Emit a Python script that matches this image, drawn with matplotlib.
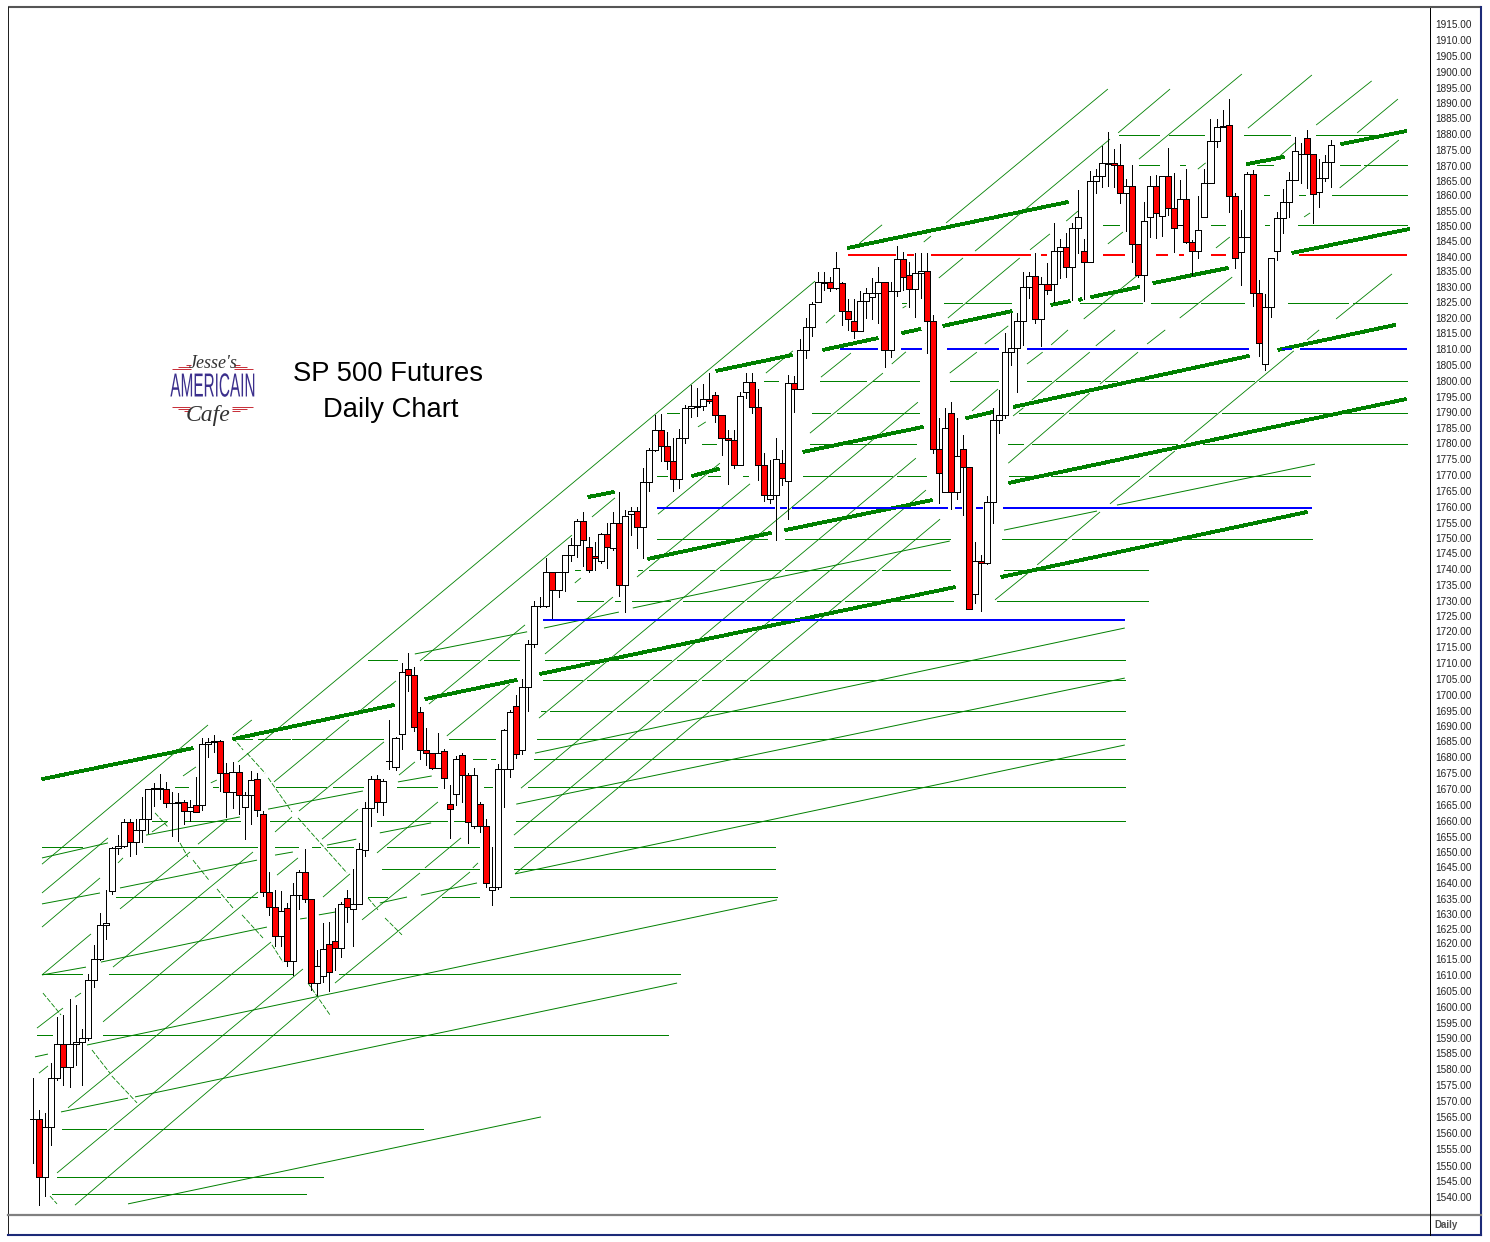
import matplotlib
matplotlib.use('Agg')
import matplotlib.pyplot as plt
from matplotlib.collections import LineCollection
from matplotlib.patheffects import AbstractPathEffect
from matplotlib.transforms import Affine2D, ScaledTranslation
import numpy as np

plt.rcParams['font.family'] = ['Liberation Sans', 'DejaVu Sans']

opens = [
  1564.8,1564.8,1546.3,1562.3,1578.2,1588.8,1581.7,1588.8,1589.4,1590.7,
  1609.4,1616.1,1626.9,1637.9,1651.5,1652.3,1659.8,1653.4,1657.2,1661.0,
  1670.3,1670.9,1670.3,1665.9,1666.1,1666.4,1663.3,1665.2,1665.2,1684.8,
  1685.6,1685.9,1675.4,1669.4,1675.8,1664.6,1668.4,1673.5,1662.6,1637.4,
  1632.6,1623.6,1632.3,1615.6,1636.4,1643.8,1635.2,1608.3,1610.5,1620.8,
  1622.0,1619.5,1635.5,1632.0,1633.6,1650.8,1664.3,1673.5,1666.2,1679.3,
  1677.6,1687.9,1708.7,1706.8,1695.2,1682.8,1681.8,1677.0,1682.5,1665.5,
  1668.7,1681.4,1674.8,1658.5,1665.8,1658.5,1638.3,1639.2,1676.7,1676.7,
  1697.1,1682.8,1703.2,1716.7,1729.0,1729.1,1739.7,1733.9,1739.7,1745.4,
  1748.6,1756.0,1747.7,1744.8,1743.2,1751.8,1747.4,1755.4,1735.8,1758.5,
  1759.2,1754.1,1768.5,1778.7,1785.1,1780.0,1775.2,1769.4,1782.5,1792.1,
  1792.7,1792.8,1795.0,1796.3,1789.9,1782.5,1781.9,1773.9,1797.3,1800.4,
  1792.5,1773.9,1763.0,1764.3,1774.6,1768.8,1800.1,1798.2,1810.7,1818.0,
  1826.0,1832.3,1832.4,1830.5,1832.1,1823.2,1820.0,1816.7,1826.3,1827.6,
  1828.9,1832.4,1810.7,1829.5,1839.8,1834.7,1830.2,1835.3,1835.9,1820.0,
  1779.0,1765.3,1790.5,1765.3,1779.0,1773.3,1732.7,1743.2,1742.6,1762.1,
  1788.3,1789.9,1810.0,1811.3,1820.0,1830.8,1834.3,1820.6,1831.8,1831.8,
  1842.3,1843.6,1837.2,1849.7,1842.3,1838.8,1864.7,1866.3,1870.4,1870.5,
  1869.8,1860.9,1863.1,1844.6,1834.6,1853.2,1863.1,1853.5,1866.3,1856.1,
  1850.6,1859.0,1845.2,1842.3,1853.2,1864.1,1877.5,1882.2,1882.6,1859.9,
  1842.0,1846.8,1866.9,1828.9,1806.2,1824.4,1842.3,1852.9,1858.0,1865.0,
  1873.5,1878.5,1873.6,1861.2,1865.7,1870.8]
closes = [
  1564.8,1546.3,1562.3,1578.2,1588.8,1581.7,1588.8,1589.4,1590.7,1609.4,
  1616.1,1627.0,1627.5,1651.5,1652.3,1659.8,1653.4,1657.2,1661.0,1670.3,
  1670.9,1670.3,1665.9,1666.1,1666.4,1663.3,1664.6,1663.0,1684.8,1685.6,
  1685.9,1675.4,1669.4,1675.8,1668.4,1668.4,1673.2,1663.6,1637.4,1632.6,
  1623.6,1631.3,1615.6,1636.4,1643.8,1635.2,1608.3,1613.7,1619.2,1611.8,
  1619.5,1633.6,1632.6,1633.6,1651.1,1664.3,1673.5,1666.2,1672.9,1679.3,
  1686.6,1707.7,1706.8,1690.4,1682.8,1681.8,1677.0,1681.8,1674.1,1664.2,
  1679.9,1674.8,1659.8,1674.8,1658.5,1640.3,1639.2,1676.7,1689.2,1695.2,
  1681.5,1703.2,1716.7,1729.1,1729.1,1739.7,1733.9,1739.7,1745.4,1748.6,
  1756.0,1749.9,1740.6,1744.2,1751.8,1747.7,1755.4,1735.8,1757.6,1759.2,
  1754.1,1768.5,1778.7,1785.1,1780.0,1775.2,1769.4,1782.5,1792.1,1792.8,
  1792.8,1795.0,1794.4,1789.9,1782.5,1781.9,1773.9,1796.0,1800.4,1792.5,
  1773.9,1764.3,1764.3,1775.8,1769.8,1800.1,1798.2,1810.7,1818.0,1825.4,
  1832.4,1832.4,1830.5,1836.9,1823.2,1820.6,1816.7,1826.3,1828.9,1828.9,
  1832.4,1810.7,1829.5,1839.8,1834.0,1830.2,1835.3,1835.9,1820.0,1779.0,
  1771.4,1785.7,1765.3,1776.8,1773.3,1727.9,1743.2,1742.6,1762.1,1788.3,
  1789.9,1810.0,1811.3,1820.0,1830.8,1834.3,1820.6,1831.8,1829.9,1842.3,
  1843.6,1837.2,1849.7,1853.2,1838.8,1864.7,1866.3,1870.5,1870.5,1869.8,
  1860.9,1863.1,1844.6,1834.6,1851.9,1863.1,1854.5,1866.3,1856.1,1849.7,
  1859.0,1845.2,1842.3,1849.0,1864.1,1877.5,1882.0,1882.3,1859.9,1840.1,
  1846.8,1866.9,1828.9,1812.9,1824.4,1840.1,1852.9,1858.0,1865.0,1874.3,
  1873.6,1873.6,1860.5,1865.7,1870.8,1876.2]
highs = [
  1577.9,1567.8,1566.7,1582.7,1597.6,1598.2,1603.2,1601.4,1593.7,1611.3,
  1620.6,1630.7,1638.1,1652.0,1655.7,1660.8,1660.8,1660.8,1667.8,1670.5,
  1672.2,1675.2,1672.8,1669.6,1669.0,1666.9,1666.9,1674.4,1686.6,1686.6,
  1687.7,1686.1,1678.6,1679.0,1678.1,1669.4,1676.2,1675.4,1663.4,1643.8,
  1638.1,1637.8,1634.1,1640.3,1644.5,1651.1,1635.2,1619.0,1627.5,1628.0,
  1632.3,1634.4,1638.1,1644.9,1653.1,1666.2,1674.6,1674.9,1673.5,1692.5,
  1687.1,1710.6,1713.8,1709.3,1696.7,1689.8,1681.8,1688.2,1683.1,1671.7,
  1681.0,1681.8,1675.6,1677.3,1666.4,1661.0,1651.8,1678.4,1689.5,1695.7,
  1700.5,1705.6,1718.1,1730.6,1731.7,1744.2,1739.7,1739.7,1745.4,1750.6,
  1756.6,1758.9,1750.9,1749.5,1752.2,1755.4,1759.1,1765.3,1759.6,1760.7,
  1760.7,1773.0,1779.3,1790.0,1790.2,1784.7,1782.5,1785.4,1793.2,1799.6,
  1798.5,1799.9,1803.3,1797.3,1790.0,1785.2,1785.2,1797.3,1803.3,1803.3,
  1798.3,1777.8,1775.6,1782.5,1778.8,1802.8,1802.6,1814.2,1820.9,1826.2,
  1835.8,1835.8,1834.2,1842.0,1832.6,1827.1,1827.0,1829.8,1830.5,1833.7,
  1837.2,1832.6,1832.6,1844.0,1842.2,1838.8,1841.7,1841.7,1841.7,1822.0,
  1788.9,1792.1,1794.1,1788.9,1783.6,1773.3,1749.3,1745.2,1764.1,1792.1,
  1798.0,1816.1,1822.5,1822.7,1835.8,1835.8,1841.7,1834.2,1838.7,1851.3,
  1846.2,1848.1,1851.5,1861.9,1846.2,1868.1,1868.5,1876.0,1880.5,1874.9,
  1876.5,1865.3,1869.9,1844.6,1858.0,1866.4,1866.7,1866.4,1875.3,1867.5,
  1865.1,1868.5,1845.9,1860.0,1868.5,1884.5,1884.5,1887.5,1890.9,1860.9,
  1855.5,1867.8,1868.3,1833.2,1828.7,1840.1,1855.0,1862.1,1867.8,1879.0,
  1876.9,1881.0,1873.6,1871.8,1873.1,1877.9]
lows = [
  1550.8,1537.4,1540.3,1556.6,1577.4,1575.8,1575.3,1582.2,1575.8,1590.2,
  1607.2,1615.8,1622.5,1636.9,1649.6,1652.0,1649.1,1649.6,1653.6,1656.3,
  1665.0,1667.3,1664.6,1655.4,1653.9,1659.2,1660.3,1663.0,1663.7,1680.8,
  1682.4,1669.9,1661.4,1664.3,1662.4,1654.3,1659.2,1661.8,1636.3,1630.1,
  1620.4,1620.2,1613.8,1611.0,1632.0,1634.4,1606.2,1604.6,1608.8,1605.9,
  1612.6,1616.8,1628.0,1620.2,1633.6,1649.1,1658.6,1663.2,1662.1,1676.7,
  1676.5,1683.1,1701.9,1689.1,1680.1,1678.0,1676.7,1677.0,1670.6,1654.9,
  1665.3,1666.4,1653.3,1658.0,1656.8,1639.0,1633.3,1638.6,1664.8,1674.4,
  1680.4,1681.5,1695.5,1715.9,1728.5,1728.5,1725.2,1731.9,1733.8,1743.3,
  1744.7,1741.7,1739.9,1740.6,1742.6,1741.0,1747.0,1732.2,1727.1,1751.6,
  1747.4,1744.4,1765.8,1778.6,1775.3,1772.6,1765.8,1766.8,1781.0,1789.5,
  1789.7,1791.6,1793.7,1787.9,1777.2,1767.9,1772.9,1773.9,1795.5,1790.8,
  1769.2,1762.6,1762.0,1750.0,1767.6,1756.9,1791.0,1798.2,1808.1,1815.4,
  1826.0,1830.0,1829.8,1830.2,1818.8,1817.2,1814.7,1816.7,1820.9,1820.6,
  1819.3,1805.5,1808.4,1828.2,1830.0,1824.4,1821.4,1827.3,1809.9,1777.8,
  1762.0,1765.3,1759.8,1763.0,1758.0,1727.9,1729.8,1727.5,1742.3,1755.6,
  1784.1,1788.9,1806.0,1797.4,1812.4,1827.3,1819.3,1812.2,1828.6,1826.2,
  1833.7,1834.0,1826.8,1841.7,1827.0,1838.8,1860.9,1862.8,1863.2,1863.0,
  1857.7,1848.9,1839.0,1834.2,1826.4,1847.0,1846.7,1847.3,1853.9,1842.2,
  1850.6,1844.9,1834.8,1840.1,1853.2,1864.1,1875.8,1882.2,1855.0,1837.1,
  1831.6,1846.8,1825.0,1809.0,1804.4,1821.4,1839.6,1848.1,1853.4,1865.0,
  1864.1,1862.5,1851.3,1856.6,1864.9,1862.8]

price_ticks = list(range(1915, 1535, -5))
# the label column of the original is not quite even, pixel row of each label
label_rows = [24,40,56,72,88,103,118,134,150,166,181,195,211,226,241,257,271,287,302,318,333,349,365,381,
              397,412,428,443,459,475,491,507,523,538,553,569,585,601,616,631,647,663,679,695,711,726,741,
              757,773,789,805,821,837,852,867,883,899,914,929,943,959,975,991,1007,1023,1038,1053,1069,
              1085,1101,1117,1133,1149,1166,1181,1197]

# (bar, price, bar, price)
fan_up = [
  (1.44,1646.4,28.94,1690.9),(1.44,1637.2,12.37,1654.8),(24.8,1674.6,26.95,1677.5),
  (33.08,1687.7,36.2,1692.5),(1.44,1626.3,11.05,1642.0),(14.03,1646.8,14.86,1648.4),
  (19.66,1656.7,22.15,1659.9),(33.9,1679.1,129.5,1832.8),(1.44,1611.0,9.56,1624.1),
  (14.36,1632.1,25.96,1650.3),(27.28,1652.8,32.08,1660.5),(39.87,1672.7,52.29,1692.5),
  (54.1,1695.4,60.08,1705.0),(64.05,1711.4,89.23,1751.6),(92.54,1757.4,96.35,1763.5),
  (13.2,1613.5,36.39,1650.3),(44.01,1663.4,58.09,1685.5),(65.54,1697.6,81.45,1722.9),
  (11.55,1596.0,37.22,1637.5),(47.82,1654.4,53.79,1664.0),(60.58,1674.9,63.22,1679.1),
  (68.5,1687.4,78.96,1704.0),(5.75,1568.5,39.37,1621.5),(47.99,1635.9,52.46,1643.3),
  (56.93,1650.0,67.03,1666.3),(3.93,1547.7,44.67,1612.9),(54.45,1628.6,64.05,1643.6),
  (64.88,1645.2,70.85,1654.8),(72.8,1645.2,73.66,1646.8),(6.91,1537.4,47.0,1603.6),
  (49.97,1608.4,72.33,1643.9),(40.37,1642.9,43.84,1648.4),(40.04,1656.7,42.85,1661.5),
  (0.61,1594.0,4.92,1600.4),(0.94,1579.6,2.43,1581.9),(6.91,1603.9,7.9,1605.2),
  (84.76,1713.6,96.02,1731.8),(100.0,1738.2,118.72,1768.0),(128.65,1784.2,140.74,1803.4),
  (83.76,1693.1,146.54,1794.1),(80.78,1670.7,146.2,1776.2),(79.62,1655.7,147.87,1766.0),
  (79.79,1643.3,150.2,1756.7),(103.47,1758.3,113.74,1774.6),(89.7,1736.3,90.7,1737.9),
  (110.1,1786.2,111.4,1787.8),(121.35,1803.4,125.82,1810.5),(130.47,1802.1,135.44,1809.8),
  (142.2,1806.3,144.55,1810.2),(131.3,1819.4,132.8,1822.0),(136.9,1845.0,140.6,1850.8),
  (151.2,1851.4,178.0,1894.2),(156.0,1842.4,178.35,1878.2),(179.7,1880.2,188.3,1894.2),
  (183.15,1871.8,200.2,1899.0),(201.2,1881.7,211.8,1898.7),(212.5,1882.7,221.7,1896.8),
  (219.3,1880.2,226.05,1891.0),(216.4,1862.6,226.2,1877.9),(147.5,1845.3,148.7,1847.2),
  (165.1,1842.8,168.4,1847.9),(171.1,1852.0,173.05,1855.2),(150.0,1833.8,154.0,1840.2),
  (151.5,1821.0,163.4,1840.2),(174.0,1820.7,183.0,1834.8),(189.9,1821.0,198.6,1834.1),
  (215.8,1820.7,225.06,1835.1),(206.5,1872.8,209.0,1877.0),(192.9,1868.6,194.2,1870.6),
  (210.5,1853.3,211.5,1854.6),(178.0,1844.7,180.5,1848.5),(195.9,1843.4,198.2,1846.9),
  (157.6,1812.7,161.5,1818.5),(151.8,1803.4,156.3,1810.1),(155.5,1791.3,159.8,1798.3),
  (164.6,1806.3,167.2,1810.1),(165.4,1794.8,175.0,1810.1),(162.3,1789.7,164.0,1792.3),
  (168.6,1812.4,171.4,1817.2),(176.0,1812.1,179.2,1817.2),(184.5,1812.7,187.5,1817.2),
  (176.7,1799.9,183.0,1810.1),(161.5,1774.6,175.0,1797.0),(190.6,1781.4,208.8,1810.5),
  (178.35,1761.6,189.1,1778.5),(166.3,1742.1,176.7,1759.0),(159.3,1730.9,164.8,1739.5),
  (211.0,1814.0,213.0,1817.2),(29.4,1672.4,30.4,1673.3),(144.0,1824.2,144.6,1824.9)]

fan_down = [
  (33.1,1686.8,34.76,1682.9),(35.4,1681.9,38.4,1675.5),(38.9,1674.0,42.85,1663.1),
  (43.85,1661.2,51.96,1643.6),(20.16,1662.8,22.3,1658.3),(24.3,1653.2,25.6,1648.7),
  (26.45,1647.7,29.1,1641.3),(30.43,1638.5,33.08,1632.4),(34.57,1630.2,38.05,1622.8),
  (39.54,1620.6,41.36,1615.1),(45.5,1608.4,49.15,1598.2),(9.72,1587.0,12.7,1579.6),
  (13.0,1578.7,17.18,1570.1),(1.6,1605.2,4.59,1598.2),(2.77,1540.3,3.93,1537.8),
  (55.45,1635.6,57.1,1631.8),(58.26,1629.2,61.07,1623.8)]

shallow = [
  (15.69,1537.8,84.1,1565.6),(4.59,1567.2,15.69,1571.6),(16.85,1572.0,106.64,1608.4),
  (0.28,1584.8,2.43,1585.7),(8.9,1588.6,123.2,1635.0),(1.44,1611.0,8.73,1613.5),
  (11.2,1615.1,38.7,1626.3),(44.2,1628.9,45.3,1629.2),(47.3,1630.2,50.0,1631.1),
  (57.4,1634.0,61.9,1635.9),(64.2,1636.5,73.5,1640.4),(79.8,1643.3,180.8,1684.5),
  (1.44,1633.7,11.05,1637.2),(14.36,1638.8,37.06,1647.7),(40.04,1649.3,43.0,1650.3),
  (48.65,1652.5,53.5,1654.4),(57.4,1656.4,65.9,1659.6),(80.0,1665.6,180.8,1705.9),
  (1.44,1648.4,12.37,1653.2),(18.67,1655.7,34.24,1661.5),(38.88,1664.0,54.6,1669.8),
  (60.4,1672.7,66.0,1674.6),(83.1,1681.9,180.8,1721.9),(63.2,1713.6,81.8,1720.7),
  (84.6,1721.9,97.0,1727.0),(99.3,1728.3,151.8,1749.7),(160.8,1753.2,176.2,1759.3),
  (179.5,1761.2,212.3,1774.3)]

thick = [
  (1.44,1673.6,26.45,1683.5),(33.08,1686.4,59.75,1697.3),(64.9,1699.2,80.1,1705.3),
  (83.9,1707.2,152.7,1735.0),(160.3,1738.2,211.0,1759.0),(91.9,1763.8,96.2,1765.4),
  (101.8,1744.0,122.2,1752.3),(124.5,1753.2,148.9,1762.8),(161.6,1768.3,227.4,1795.1),
  (109.1,1770.5,113.6,1772.8),(127.5,1778.2,147.4,1786.2),(154.5,1789.0,159.0,1791.0),
  (162.4,1792.6,201.4,1808.9),(206.2,1810.8,225.6,1818.8),(113.1,1804.1,125.7,1809.2),
  (130.8,1810.8,139.9,1814.6),(143.9,1816.2,147.0,1817.5),(150.7,1818.5,162.1,1823.2),
  (168.6,1825.2,171.7,1826.4),(173.2,1826.7,173.7,1827.1),(175.2,1827.7,183.2,1830.9),
  (185.5,1832.2,197.9,1837.0),(208.5,1841.8,228.0,1849.5),(134.9,1843.4,171.4,1858.1),
  (201.0,1870.2,207.2,1872.5),(216.6,1876.6,227.5,1880.8)]

# price level: visible spans in bars
green_levels = {
  1541.0: [(3.1,45.2)],
  1546.4: [(3.9,48.0)],
  1561.7: [(4.75,12.0),(13.4,64.5)],
  1591.8: [(0.6,3.1),(11.5,105.1)],
  1611.3: [(1.4,8.1),(12.5,42.85),(50.6,107.1)],
  1635.9: [(13.7,30.9),(32.1,37.05),(55.4,58.6),(67.7,73.8),(79.0,123.2)],
  1644.9: [(57.8,73.8),(79.6,122.9)],
  1651.9: [(1.4,8.1),(18.3,37.05),(40.0,43.85),(46.2,47.5),(48.65,53.0),(58.6,73.8),(79.6,122.9)],
  1660.2: [(19.7,22.2),(25.1,34.2),(39.2,55.4),(56.9,68.5),(69.7,71.3),(80.0,180.8)],
  1671.1: [(23.5,25.6),(29.8,30.6),(40.2,48.5),(49.6,54.6),(60.2,66.9),(74.7,76.0),(82.0,180.8)],
  1680.0: [(72.8,75.0),(75.8,76.5),(83.0,180.8)],
  1686.4: [(33.4,36.2),(37.2,42.5),(42.8,58.0),(68.8,76.5),(83.4,180.8)],
  1695.4: [(84.1,84.8),(85.6,95.9),(96.7,103.6),(104.5,180.8)],
  1705.3: [(84.4,90.9),(91.7,101.8),(102.6,109.8),(110.8,118.2),(118.7,180.8)],
  1711.7: [(55.4,60.2),(64.7,73.8),(75.3,80.5),(84.8,105.6),(106.6,113.8),(114.7,180.8)],
  1730.5: [(90.0,94.4),(96.4,97.2),(99.2,105.5),(107.6,117.6),(118.2,125.3),(126.3,133.6),(134.4,152.3),(159.6,184.6)],
  1740.4: [(89.7,90.6),(100.2,100.8),(102.0,112.8),(113.8,123.7),(124.5,139.4),(140.6,151.8),(160.8,163.8),(166.4,184.6)],
  1750.3: [(103.3,121.5),(124.5,151.8),(160.4,171.1),(172.1,211.8)],
  1770.5: [(103.3,105.0),(111.8,113.7),(117.5,118.4),(127.5,142.2),(143.1,147.9),(161.6,165.3),(168.6,183.2),(184.8,211.5)],
  1780.7: [(110.8,113.1),(128.6,146.2),(161.5,164.0),(165.4,189.4),(193.8,227.5)],
  1790.6: [(105.0,107.0),(129.0,132.0),(133.1,146.7),(163.3,170.6),(171.6,195.9),(196.9,227.5)],
  1800.9: [(121.0,123.4),(130.3,137.9),(139.1,146.7),(151.8,159.8),(164.6,168.6),(169.4,176.7),(177.5,179.5),(183.3,202.2),(203.0,227.5)],
  1825.8: [(143.9,144.5),(150.9,153.8),(154.5,162.0),(173.4,183.6),(185.1,192.8),(193.4,200.5),(207.8,217.8),(218.6,227.5)],
  1850.8: [(177.2,179.9),(195.1,197.4),(204.0,204.7),(209.5,227.5)],
  1860.3: [(203.9,204.7),(209.7,210.6),(215.1,227.5)],
  1869.9: [(183.2,186.5),(189.9,190.8),(202.7,205.4),(216.4,219.8),(220.4,227.5)],
  1879.5: [(179.9,186.5),(188.1,193.9),(200.5,208.2),(212.5,222.1)],
}
blue_levels = {
  1724.5: [(84.4,180.8)],
  1760.3: [(103.3,122.8),(123.7,124.8),(125.7,151.5),(152.7,153.8),(156.2,157.3),(160.6,211.8)],
  1811.1: [(133.6,139.9),(143.7,147.2),(151.4,159.9),(164.6,201.4),(206.8,208.5),(209.8,227.5)],
}
red_levels = {
  1841.2: [(134.9,142.9),(144.7,145.9),(148.7,165.3),(166.9,167.9),(177.2,180.8),(186.0,188.0),
           (189.8,190.6),(195.1,197.6),(209.7,227.5)],
}

GREEN = '#008000'
PX = 0.72  # one pixel in points at dpi 100
THIN = 0.6


def seg_lines(rows):
  return [[(r[0], r[1]), (r[2], r[3])] for r in rows]


def level_lines(levels):
  out = []
  for price, spans in levels.items():
    for a, b in spans:
      out.append([(a, price), (b, price)])
  return out


class SqueezeX(AbstractPathEffect):
  # narrow a text around a pixel column, there is no condensed face installed
  def __init__(self, cx, sx):
    super().__init__()
    self.cx = cx
    self.sx = sx

  def draw_path(self, renderer, gc, tpath, affine, rgbFace=None):
    squeeze = Affine2D().translate(-self.cx, 0).scale(self.sx, 1).translate(self.cx, 0)
    renderer.draw_path(gc, tpath, affine + squeeze, rgbFace)


fig = plt.figure(figsize=(14.9, 12.42), dpi=100, facecolor='white')

# window frame and free text, in pixels
bg = fig.add_axes([0, 0, 1, 1], zorder=0)
bg.set_xlim(0, 1490)
bg.set_ylim(1242, 0)
bg.axis('off')
bg.plot([8, 1481], [7, 7], color='#555555', lw=1.5, solid_capstyle='butt')
bg.plot([8, 8], [7, 1235], color='#222222', lw=PX)
bg.plot([1481, 1481], [7, 1235], color='#1c2a78', lw=1.5)
bg.plot([8, 1481], [1235, 1235], color='#1c2a78', lw=1.5)
bg.plot([8, 1481], [1215, 1215], color='#808080', lw=1.6)
bg.plot([1430, 1430], [8, 1235], color='black', lw=PX)
bg.text(1446, 1225.5, 'Daily', fontsize=7, ha='center', va='center', color='#222222',
        fontweight='bold', alpha=0.8)

bg.text(388, 374, 'SP 500 Futures', fontsize=19.7, ha='center', va='center', color='black')
bg.text(391, 410, 'Daily Chart', fontsize=19.7, ha='center', va='center', color='black')

# logo
for x0, x1, y in [(186, 191, 365), (178, 191, 367), (172, 191, 369), (234, 240, 365), (234, 247, 367),
                  (234, 253, 369), (172, 190, 407), (178, 190, 409), (184, 190, 411), (232, 253, 407),
                  (232, 247, 409), (232, 240, 411)]:
  bg.plot([x0, x1], [y, y], color='#c8323c', lw=PX, solid_capstyle='butt')
bg.text(213, 363, "Jesse's", fontsize=13, ha='center', va='center', style='italic',
        family=['Liberation Serif', 'DejaVu Serif'], color='#333333')
amer = bg.text(213, 388, 'AMERICAIN', fontsize=24, ha='center', va='center', color='#3b2f8c')
amer.set_path_effects([SqueezeX(213, 0.46)])
bg.text(208, 416, 'Cafe', fontsize=17, ha='center', va='center', style='italic',
        family=['Liberation Serif', 'DejaVu Serif'], color='#333333')

# price panel
ax = fig.add_axes([8 / 1490, 1 - 1215 / 1242, 1422 / 1490, 1207 / 1242], zorder=1)
ax.patch.set_alpha(0)
ax.set_xlim(-4.19, 231.36)
ax.set_ylim(1534.25, 1920.115)
for s in ax.spines.values():
  s.set_visible(False)
ax.set_xticks([])
ax.yaxis.tick_right()
ax.set_yticks(price_ticks)
ax.set_yticklabels(['%.2f' % t for t in price_ticks], fontsize=7.2, color='#222222')
ax.tick_params(axis='y', length=0, pad=3.5)
for lab, t, row in zip(ax.get_yticklabels(), price_ticks, label_rows):
  dy = -(row - (24 + (1915 - t) * 3.128)) / 100
  lab.set_transform(lab.get_transform() + ScaledTranslation(0, dy, fig.dpi_scale_trans))

ax.add_collection(LineCollection(seg_lines(fan_up), colors=GREEN, linewidths=THIN, zorder=1))
ax.add_collection(LineCollection(seg_lines(fan_down), colors=GREEN, linewidths=THIN, linestyles=(0, (6, 2)), zorder=1))
ax.add_collection(LineCollection(seg_lines(shallow), colors=GREEN, linewidths=THIN + 0.1, zorder=1))
ax.add_collection(LineCollection(level_lines(green_levels), colors=GREEN, linewidths=PX, antialiaseds=False, zorder=1))
ax.add_collection(LineCollection(seg_lines(thick), colors=GREEN, linewidths=2.0, antialiaseds=False, zorder=2))
ax.add_collection(LineCollection(level_lines(blue_levels), colors='#0000ff', linewidths=1.44, zorder=2))
ax.add_collection(LineCollection(level_lines(red_levels), colors='#ff0000', linewidths=1.44, zorder=2))

o = np.array(opens)
c = np.array(closes)
bars = np.arange(len(o))
body_colors = ['#ff0000' if cc < oo else 'white' for oo, cc in zip(o, c)]
ax.vlines(bars, lows, highs, colors='black', linewidths=PX, antialiaseds=False, zorder=3)
ax.bar(bars, np.abs(c - o), bottom=np.minimum(o, c), width=1.0, color=body_colors,
       edgecolor='black', linewidth=PX, antialiased=False, zorder=4)

fig.savefig('out.png', dpi=100, facecolor='white')
